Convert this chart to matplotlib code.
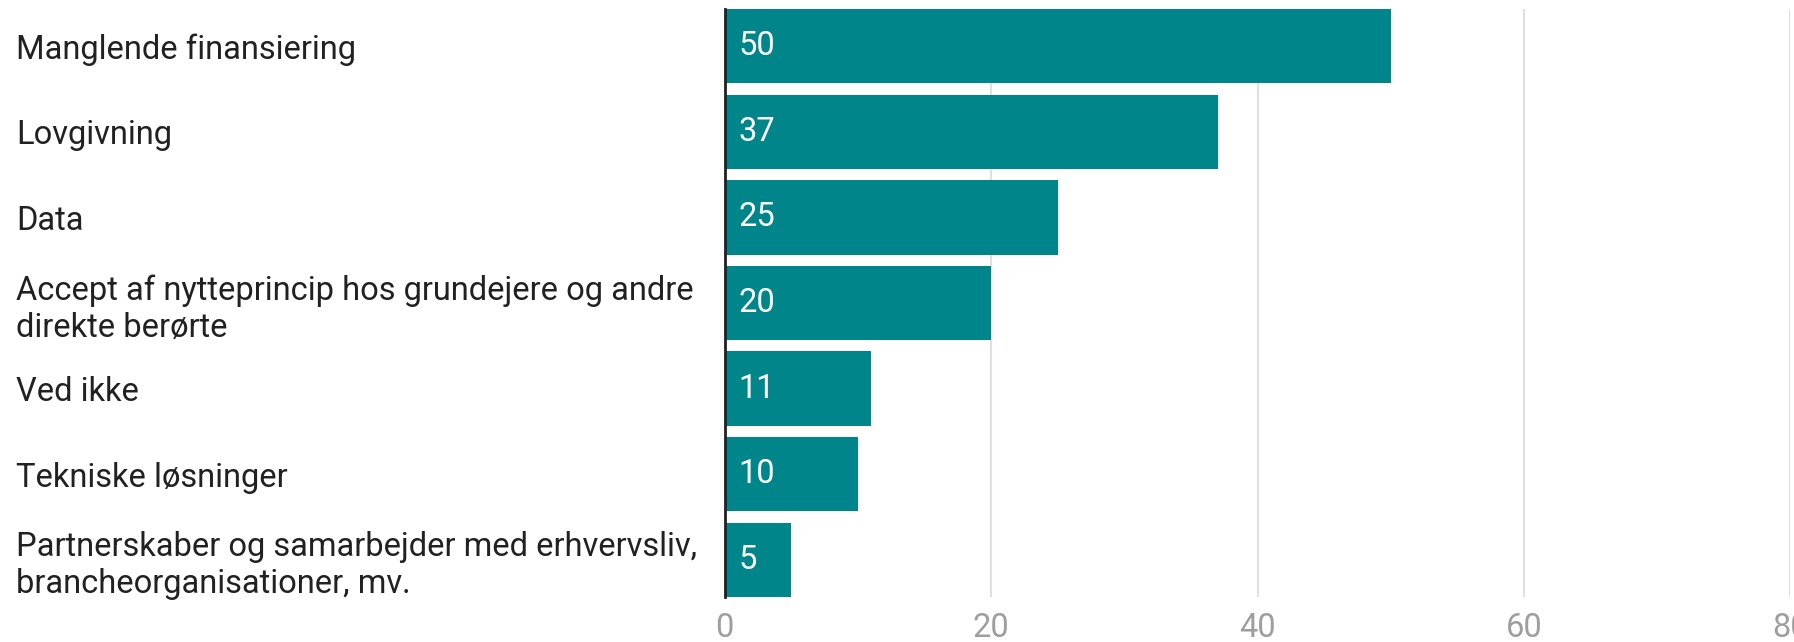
import matplotlib.pyplot as plt

labels = ["Manglende finansiering",
          "Lovgivning",
          "Data",
          "Accept af nytteprincip hos grundejere og andre\ndirekte berørte",
          "Ved ikke",
          "Tekniske løsninger",
          "Partnerskaber og samarbejder med erhvervsliv,\nbrancheorganisationer, mv."]
values = [50, 37, 25, 20, 11, 10, 5]
xticks = [0, 20, 40, 60, 80]

plt.rcParams['font.family'] = ['Roboto', 'DejaVu Sans']
fs = 23.5

fig = plt.figure(figsize=(17.94, 6.42), dpi=100)
ax = fig.add_axes([0.404, 0.070, 0.594, 0.916])

ypos = list(range(len(values)))
ax.barh(ypos, values, height=0.87, color='#00868a', zorder=2)

for y, v in zip(ypos, values):
    ax.annotate(str(v), xy=(0, y), xytext=(10, 0), textcoords='offset points',
                ha='left', va='center', color='white', fontsize=fs, zorder=3)

ax.set_xlim(0, 80)
ax.set_ylim(len(values) - 1 + 0.435, -0.435)
ax.set_xticks(xticks)
ax.set_xticklabels([str(t) for t in xticks], color='#9e9e9e', fontsize=fs)
ax.set_yticks(ypos)
ax.set_yticklabels(labels, fontsize=fs, ha='left', color='#212121', linespacing=1.2)
ax.tick_params(axis='y', length=0, pad=510)
ax.tick_params(axis='x', length=0, pad=11)

ax.grid(axis='x', color='#e0e0e0', linewidth=1.5, zorder=0)
for s in ['top', 'right', 'bottom']:
    ax.spines[s].set_visible(False)
ax.spines['left'].set_color('#212121')
ax.spines['left'].set_linewidth(2)
ax.spines['left'].set_zorder(4)

fig.savefig('out.png', dpi=100)
